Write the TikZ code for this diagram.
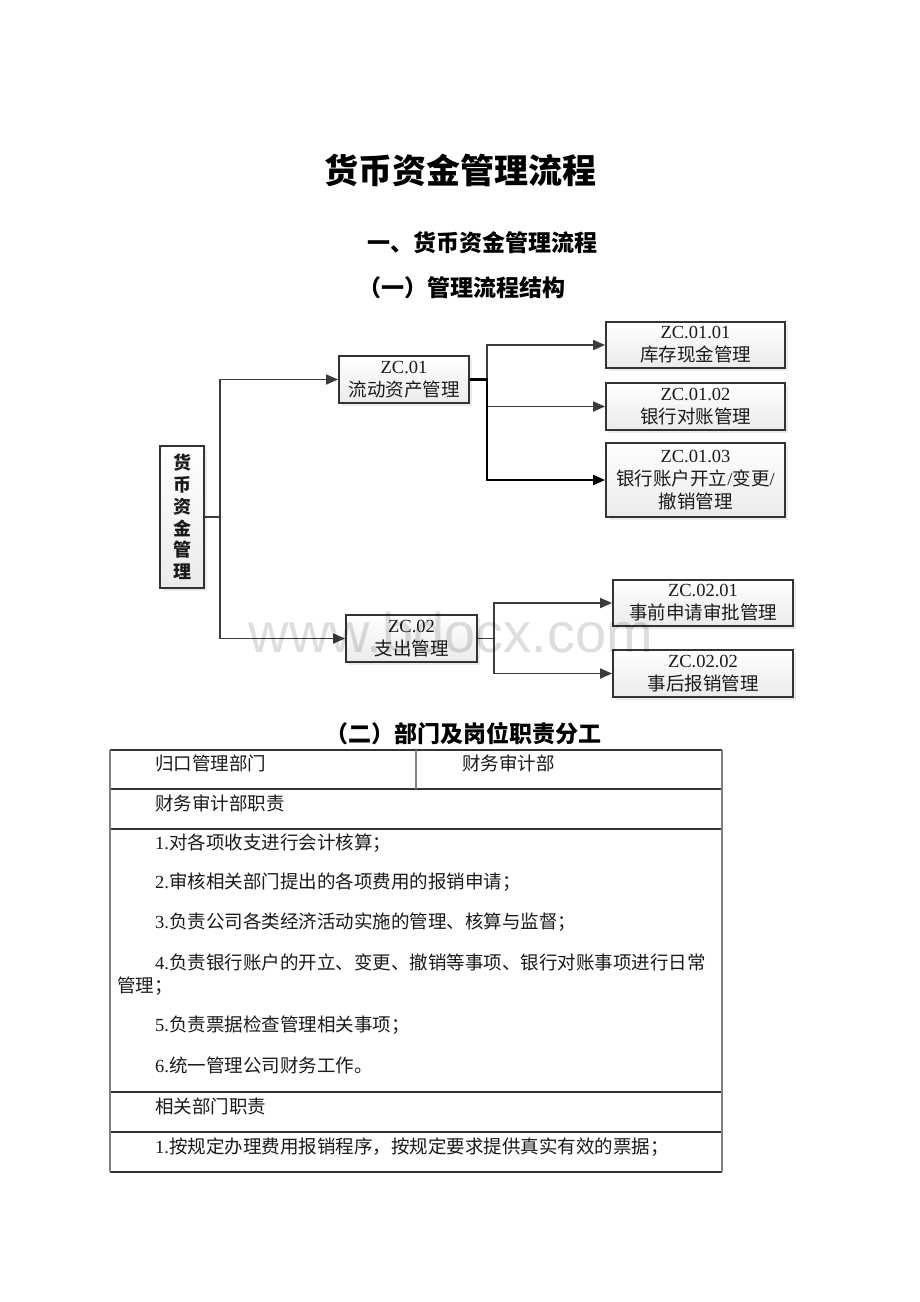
\documentclass[tikz,border=0pt]{standalone}
\usepackage{fontspec}
\setmainfont{Liberation Serif}
\newfontfamily\cjk{Noto Sans CJK SC}
\newfontfamily\wmfont{Liberation Sans}
\usetikzlibrary{arrows.meta,shadows}
\definecolor{linec}{HTML}{3C3C3C}
\definecolor{boxline}{HTML}{333333}
\definecolor{txtc}{HTML}{1A1A1A}
\tikzset{
  box/.style={draw=boxline, line width=1.8pt, top color=white, bottom color=gray!16,
    drop shadow={shadow xshift=2.5pt, shadow yshift=-2.5pt, fill=gray!30},
    align=center, inner sep=0pt, text=txtc,
    font=\fontsize{18.5}{23}\selectfont},
  conn/.style={draw=linec, line width=1.7pt, -{Triangle[length=12pt,width=10pt]}},
  connb/.style={draw=black, line width=2.1pt, -{Triangle[length=12pt,width=10pt]}},
  head/.style={inner sep=0pt, text=black, font=\cjk\bfseries\fontsize{23}{28}\selectfont},
  tt/.style={anchor=west, inner sep=0pt, text=txtc, font=\fontsize{18.5}{23}\selectfont},
  hline/.style={draw=black!80, line width=1.1pt},
  vline/.style={draw=black!50, line width=1.1pt},
}
\begin{document}
\begin{tikzpicture}[x=1pt,y=-1pt]
\useasboundingbox[fill=white] (0,0) rectangle (920,1302);

% headings
\node[head, font=\cjk\bfseries\fontsize{34}{40}\selectfont] (title) at (460,170) {货币资金管理流程};
\node[head] (h1) at (482,243) {一、货币资金管理流程};
\node[head] (h2) at (462,288) {（一）管理流程结构};
\node[head] (h3) at (463,734) {（二）部门及岗位职责分工};

% boxes
\node[box, minimum width=44pt, minimum height=142pt,
      font=\cjk\bfseries\fontsize{18}{21.7}\selectfont] (root) at (182,517)
      {货\\币\\资\\金\\管\\理};
\node[box, minimum width=130pt, minimum height=47pt] (zc01) at (404,379.5)
      {ZC.01\\{\cjk 流动资产管理}};
\node[box, minimum width=179pt, minimum height=46pt] (zc0101) at (695.5,345)
      {ZC.01.01\\{\cjk 库存现金管理}};
\node[box, minimum width=179pt, minimum height=47pt] (zc0102) at (695.5,406.5)
      {ZC.01.02\\{\cjk 银行对账管理}};
\node[box, minimum width=179pt, minimum height=74pt] (zc0103) at (695.5,480)
      {ZC.01.03\\{\cjk 银行账户开立}/{\cjk 变更}/\\{\cjk 撤销管理}};
\node[box, minimum width=131pt, minimum height=47pt] (zc02) at (411.5,638.5)
      {ZC.02\\{\cjk 支出管理}};
\node[box, minimum width=180pt, minimum height=46pt] (zc0201) at (703,603)
      {ZC.02.01\\{\cjk 事前申请审批管理}};
\node[box, minimum width=180pt, minimum height=47pt] (zc0202) at (703,673.5)
      {ZC.02.02\\{\cjk 事后报销管理}};

% connectors
\draw[conn] (root.east) -- ++(15,0) |- (zc01.west);
\draw[conn] (root.east) -- ++(15,0) |- (zc02.west);
\draw[conn] (zc01.east) -- ++(17,0) |- (zc0101.west);
\draw[conn] (zc01.east) -- ++(17,0) |- (zc0102.west);
\draw[connb] (zc01.east) -- ++(17,0) |- (zc0103.west);
\draw[conn] (zc02.east) -- ++(16,0) |- (zc0201.west);
\draw[conn] (zc02.east) -- ++(16,0) |- (zc0202.west);

% watermark
\node[inner sep=0pt, anchor=base, text=black, opacity=0.13,
      font=\wmfont\fontsize{56}{60}\selectfont] (wm) at (451,652) {www.bdocx.com};

% table
\draw[hline] (110,750) -- (722,750);
\draw[hline] (110,789) -- (722,789);
\draw[hline] (110,829) -- (722,829);
\draw[hline] (110,1092) -- (722,1092);
\draw[hline] (110,1132) -- (722,1132);
\draw[hline] (110,1172) -- (722,1172);
\draw[vline] (110,750) -- (110,1172);
\draw[vline] (722,750) -- (722,1172);
\draw[vline] (416,750) -- (416,789);

\node[tt] (c1) at (155,763) {\cjk 归口管理部门};
\node[tt] (c2) at (462,763) {\cjk 财务审计部};
\node[tt] (c3) at (155,803) {\cjk 财务审计部职责};
\node[tt] (l1) at (155,843) {1.{\cjk 对各项收支进行会计核算；}};
\node[tt] (l2) at (155,882) {2.{\cjk 审核相关部门提出的各项费用的报销申请；}};
\node[tt] (l3) at (155,922) {3.{\cjk 负责公司各类经济活动实施的管理、核算与监督；}};
\node[tt] (l4) at (155,962) {4.{\cjk 负责银行账户的开立、变更、撤销等事项、银行对账事项进行日常}};
\node[tt] (l4b) at (117,986) {\cjk 管理；};
\node[tt] (l5) at (155,1025) {5.{\cjk 负责票据检查管理相关事项；}};
\node[tt] (l6) at (155,1065) {6.{\cjk 统一管理公司财务工作。}};
\node[tt] (c4) at (155,1106) {\cjk 相关部门职责};
\node[tt] (m1) at (155,1147) {1.{\cjk 按规定办理费用报销程序，按规定要求提供真实有效的票据；}};
\end{tikzpicture}
\end{document}
